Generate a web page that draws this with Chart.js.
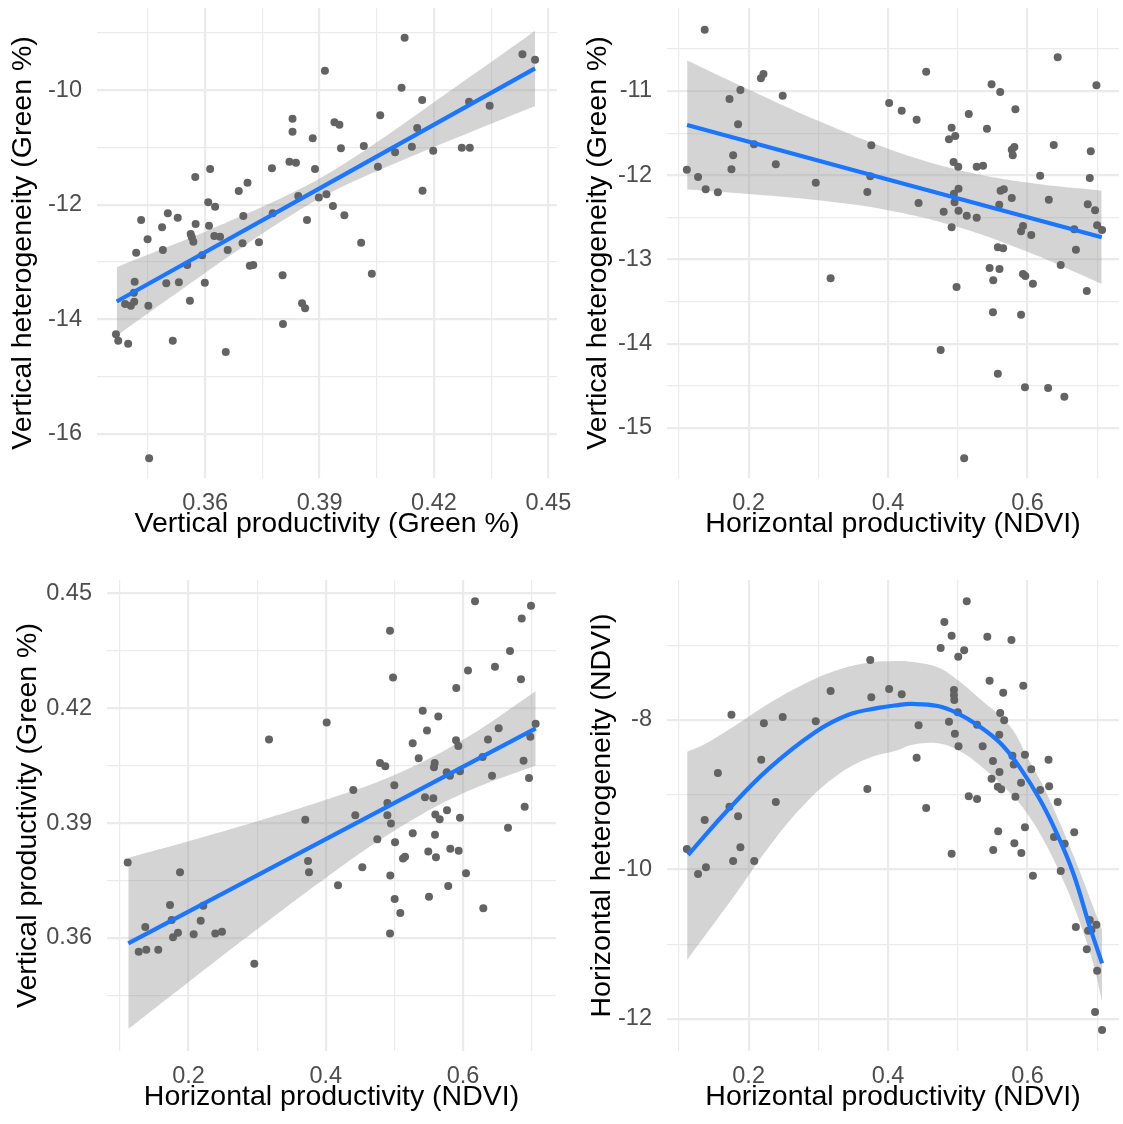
<!DOCTYPE html>
<html>
<head>
<meta charset="utf-8">
<script src="https://cdn.jsdelivr.net/npm/chart.js@4.4.1/dist/chart.umd.min.js"></script>
<style>
html,body{margin:0;padding:0;background:#ffffff;}
#wrap{position:relative;width:1123px;height:1124px;overflow:hidden;background:#fff;}
.cell{position:absolute;}
</style>
</head>
<body>
<div id="wrap">
  <div class="cell" style="left:0px;top:0px;width:600px;height:561px"><canvas id="c1"></canvas></div>
  <div class="cell" style="left:561px;top:0px;width:562px;height:561px"><canvas id="c2"></canvas></div>
  <div class="cell" style="left:0px;top:561px;width:600px;height:563px"><canvas id="c3"></canvas></div>
  <div class="cell" style="left:561px;top:561px;width:562px;height:563px"><canvas id="c4"></canvas></div>
</div>
<script>
// ---------------- Panel 1: Vertical productivity vs Vertical heterogeneity ----------------
const p1PointX = [0.3914,0.3829,0.3829,0.3882,0.3939,0.3952,0.3821,0.3838,0.3775,0.3888,0.3956,0.3574,0.3613,0.3711,0.3688,0.3608,0.3626,0.3844,0.3898,0.3918,0.3935,0.3432,0.3502,0.3528,0.3487,0.3449,0.3575,0.3610,0.3562,0.3565,0.3569,0.3624,0.3639,0.3700,0.3777,0.3867,0.3419,0.3489,0.3592,0.3659,0.3698,0.3741,0.3553,0.3717,0.3726,0.3803,0.3415,0.3498,0.3531,0.3599,0.3413,0.3390,0.3405,0.3414,0.3451,0.3560,0.3854,0.3862,0.3804,0.3366,0.3372,0.3398,0.3515,0.3654,0.3453,0.4123,0.4115,0.4169,0.4059,0.4156,0.4292,0.4346,0.4432,0.4465,0.4016,0.4098,0.4142,0.4198,0.4273,0.4294,0.4053,0.4170,0.3965,0.4009,0.4037];
const p1PointY = [-9.658,-10.497,-10.724,-10.839,-10.560,-10.602,-11.248,-11.266,-11.363,-11.376,-11.014,-11.515,-11.376,-11.615,-11.760,-11.957,-12.034,-11.847,-11.873,-11.818,-12.022,-12.266,-12.149,-12.226,-12.394,-12.604,-12.336,-12.366,-12.511,-12.569,-12.645,-12.546,-12.558,-12.197,-12.149,-12.266,-12.838,-12.790,-12.883,-12.790,-12.673,-12.656,-13.052,-13.065,-13.052,-13.232,-13.344,-13.372,-13.355,-13.362,-13.536,-13.734,-13.763,-13.693,-13.763,-13.676,-13.721,-13.809,-14.083,-14.263,-14.375,-14.427,-14.375,-14.572,-16.429,-9.082,-9.955,-10.170,-10.438,-10.659,-10.200,-10.270,-9.372,-9.466,-10.974,-11.084,-10.986,-11.056,-11.003,-11.003,-11.335,-11.755,-12.184,-12.663,-13.204];
const p1FitX = [0.3368, 0.4465];
const p1FitY = [-13.69, -9.617];
const p1BandX  = [0.3368, 0.35, 0.36, 0.37, 0.38, 0.39, 0.40, 0.41, 0.42, 0.43, 0.44, 0.4465];
const p1BandHi = [-13.09, -12.74, -12.47, -12.18, -11.88, -11.54, -11.13, -10.68, -10.21, -9.74, -9.27, -8.96];
const p1BandLo = [-14.29, -13.66, -13.19, -12.73, -12.29, -11.89, -11.56, -11.27, -10.99, -10.72, -10.45, -10.28];
const p1XTicks  = [0.345, 0.36, 0.375, 0.39, 0.405, 0.42, 0.435, 0.45];
const p1XLabels = ['', '0.36', '', '0.39', '', '0.42', '', '0.45'];
const p1YTicks  = [-16, -15, -14, -13, -12, -11, -10, -9];
const p1YLabels = ['-16', '', '-14', '', '-12', '', '-10', ''];

// ---------------- Panel 2: Horizontal productivity vs Vertical heterogeneity ----------------
const p2PointX = [0.137,0.2176,0.2213,0.1882,0.1726,0.2489,0.1849,0.2077,0.1778,0.1754,0.1114,0.1275,0.1384,0.1559,0.2390,0.2963,0.3760,0.3745,0.3703,0.4016,0.3176,0.6434,0.4547,0.6989,0.5485,0.5609,0.4196,0.4410,0.5158,0.5827,0.4912,0.4874,0.4964,0.5419,0.5775,0.5812,0.5789,0.6377,0.6908,0.4940,0.5007,0.5272,0.5363,0.6182,0.6894,0.5011,0.4945,0.5614,0.5661,0.5775,0.6306,0.4438,0.4954,0.5595,0.6865,0.6970,0.4798,0.5011,0.5129,0.5272,0.4912,0.5936,0.5908,0.6054,0.6671,0.6999,0.7070,0.5575,0.5651,0.6695,0.6477,0.5457,0.5599,0.5509,0.5936,0.5969,0.6078,0.6851,0.4983,0.5505,0.5908,0.4755,0.5575,0.5964,0.6296,0.6529,0.5092];
const p2PointY = [-10.272,-10.849,-10.798,-10.988,-11.095,-11.056,-11.396,-11.633,-11.764,-11.930,-11.934,-12.021,-12.168,-12.203,-11.871,-12.089,-11.645,-12.013,-12.200,-11.143,-13.225,-10.600,-10.771,-10.932,-10.920,-11.012,-11.234,-11.341,-11.273,-11.217,-11.436,-11.574,-11.534,-11.447,-11.697,-11.665,-11.764,-11.641,-11.716,-11.843,-11.899,-11.899,-11.887,-12.006,-12.033,-12.160,-12.220,-12.184,-12.167,-12.271,-12.291,-12.330,-12.322,-12.350,-12.346,-12.417,-12.433,-12.421,-12.481,-12.505,-12.619,-12.603,-12.666,-12.710,-12.643,-12.595,-12.651,-12.856,-12.868,-12.885,-13.067,-13.102,-13.114,-13.248,-13.173,-13.197,-13.289,-13.375,-13.328,-13.628,-13.657,-14.076,-14.357,-14.519,-14.527,-14.630,-15.362];
const p2FitX = [0.1118, 0.7065];
const p2FitY = [-11.404, -12.738];
const p2BandX  = [0.1118, 0.2, 0.3, 0.4, 0.5, 0.6, 0.7065];
const p2BandHi = [-10.638, -10.981, -11.354, -11.685, -11.935, -12.088, -12.185];
const p2BandLo = [-12.170, -12.223, -12.298, -12.415, -12.615, -12.910, -13.291];
const p2XTicks  = [0.1, 0.2, 0.3, 0.4, 0.5, 0.6, 0.7];
const p2XLabels = ['', '0.2', '', '0.4', '', '0.6', ''];
const p2YTicks  = [-15, -14.5, -14, -13.5, -13, -12.5, -12, -11.5, -11, -10.5];
const p2YLabels = ['-15', '', '-14', '', '-13', '', '-12', '', '-11', ''];

// ---------------- Panel 3: Horizontal productivity vs Vertical productivity ----------------
const p3PointX = [0.4013,0.3172,0.3701,0.1112,0.1875,0.3741,0.3755,0.4178,0.1729,0.2214,0.1753,0.2176,0.1369,0.1845,0.1773,0.2074,0.2389,0.2487,0.1273,0.1383,0.1558,0.2958,0.6175,0.6991,0.6856,0.4936,0.6685,0.6466,0.6073,0.4980,0.6845,0.5902,0.5413,0.5640,0.5475,0.7059,0.6981,0.6520,0.6364,0.5898,0.5932,0.5267,0.5354,0.4790,0.4867,0.5587,0.5577,0.6286,0.6883,0.5762,0.5810,0.5956,0.6423,0.6962,0.4999,0.4401,0.5446,0.5567,0.4898,0.4430,0.4898,0.4950,0.5597,0.5660,0.5767,0.5956,0.6899,0.5267,0.5592,0.4751,0.5009,0.6656,0.5125,0.5155,0.5494,0.5606,0.5815,0.5937,0.4532,0.4940,0.6044,0.5785,0.5004,0.5504,0.6296,0.5086,0.4936];
const p3PointY = [0.4163,0.4119,0.3909,0.3797,0.3772,0.3801,0.3772,0.3738,0.3686,0.3684,0.3647,0.3645,0.3629,0.3614,0.3602,0.3610,0.3612,0.3616,0.3564,0.3569,0.3569,0.3533,0.4480,0.4468,0.4435,0.4403,0.4350,0.4309,0.4299,0.4281,0.4276,0.4253,0.4194,0.4179,0.4142,0.4160,0.4126,0.4148,0.4119,0.4117,0.4102,0.4109,0.4070,0.4057,0.4049,0.4057,0.4046,0.4073,0.4063,0.4033,0.4024,0.4036,0.4024,0.4018,0.3999,0.3987,0.3968,0.3965,0.3953,0.3921,0.3921,0.3899,0.3923,0.3910,0.3934,0.3914,0.3943,0.3874,0.3870,0.3858,0.3850,0.3888,0.3808,0.3812,0.3826,0.3811,0.3833,0.3828,0.3785,0.3763,0.3769,0.3736,0.3702,0.3708,0.3678,0.3665,0.3612];
const p3FitX = [0.1121, 0.706];
const p3FitY = [0.3586, 0.4148];
const p3BandX  = [0.1121, 0.2, 0.3, 0.4, 0.5, 0.6, 0.706];
const p3BandHi = [0.3810, 0.3853, 0.3905, 0.3961, 0.4026, 0.4118, 0.4245];
const p3BandLo = [0.3362, 0.3485, 0.3623, 0.3757, 0.3880, 0.3978, 0.4051];
const p3XTicks  = [0.1, 0.2, 0.3, 0.4, 0.5, 0.6, 0.7];
const p3XLabels = ['', '0.2', '', '0.4', '', '0.6', ''];
const p3YTicks  = [0.345, 0.36, 0.375, 0.39, 0.405, 0.42, 0.435, 0.45];
const p3YLabels = ['', '0.36', '', '0.39', '', '0.42', '', '0.45'];

// ---------------- Panel 4: Horizontal productivity vs Horizontal heterogeneity ----------------
const p4PointX = [0.3745,0.3176,0.3760,0.4016,0.1754,0.2219,0.2489,0.2963,0.2181,0.1559,0.3703,0.2390,0.1725,0.1849,0.1370,0.1882,0.1114,0.1778,0.2081,0.1388,0.1275,0.5129,0.4808,0.4912,0.5424,0.5770,0.4755,0.5092,0.5007,0.5457,0.5652,0.5940,0.4196,0.4945,0.4945,0.4950,0.5001,0.4874,0.4438,0.5609,0.5666,0.5277,0.4959,0.5595,0.5011,0.5357,0.4410,0.5784,0.5964,0.6302,0.5505,0.5803,0.6054,0.5599,0.5485,0.5908,0.5575,0.5623,0.6311,0.6182,0.5827,0.6434,0.5158,0.5277,0.4547,0.5964,0.5580,0.6671,0.6381,0.6533,0.5812,0.5509,0.5912,0.4912,0.6477,0.6078,0.6694,0.6894,0.6989,0.6870,0.6918,0.6851,0.6999,0.6970,0.7070];
const p4PointY = [-7.197,-7.612,-7.696,-7.585,-7.929,-8.045,-7.960,-8.018,-8.531,-8.709,-8.924,-9.098,-9.161,-9.290,-9.339,-9.705,-9.727,-9.888,-9.888,-9.972,-10.062,-6.411,-6.688,-6.872,-6.885,-6.929,-7.036,-7.067,-7.153,-7.474,-7.635,-7.541,-7.656,-7.598,-7.665,-7.732,-7.897,-8.022,-8.071,-7.906,-8.004,-8.062,-8.183,-8.196,-8.353,-8.353,-8.504,-8.477,-8.464,-8.531,-8.549,-8.594,-8.660,-8.696,-8.786,-8.839,-8.893,-8.928,-8.888,-8.937,-9.027,-9.098,-9.021,-9.058,-9.178,-9.437,-9.490,-9.503,-9.566,-9.656,-9.651,-9.740,-9.780,-9.790,-10.021,-10.084,-10.771,-10.677,-10.740,-10.820,-10.811,-11.070,-11.356,-11.909,-12.150];
const p4FitX = [0.1132, 0.1725, 0.2294, 0.2959, 0.3432, 0.3860, 0.4144, 0.4333, 0.4713, 0.4997, 0.5282, 0.5613, 0.5899, 0.6182, 0.6420, 0.6657, 0.6894, 0.7070];
const p4FitY = [-9.807, -9.182, -8.647, -8.160, -7.930, -7.838, -7.800, -7.785, -7.812, -7.910, -8.067, -8.312, -8.647, -9.071, -9.517, -10.052, -10.767, -11.257];
const p4BandX  = [0.1118, 0.1346, 0.1821, 0.2294, 0.2768, 0.3243, 0.3717, 0.4144, 0.4333, 0.4713, 0.4997, 0.5282, 0.5755, 0.5993, 0.6230, 0.6467, 0.6704, 0.6942, 0.7070];
const p4BandHi = [-8.424, -8.335, -8.067, -7.777, -7.531, -7.340, -7.233, -7.210, -7.219, -7.295, -7.465, -7.688, -8.089, -8.491, -8.893, -9.383, -9.918, -10.499, -10.811];
const p4BandLo = [-11.213, -10.923, -10.320, -9.696, -9.161, -8.759, -8.513, -8.402, -8.335, -8.312, -8.402, -8.580, -8.981, -9.249, -9.606, -10.052, -10.588, -11.257, -11.771];
const p4XTicks  = [0.1, 0.2, 0.3, 0.4, 0.5, 0.6, 0.7];
const p4XLabels = ['', '0.2', '', '0.4', '', '0.6', ''];
const p4YTicks  = [-12, -11, -10, -9, -8, -7];
const p4YLabels = ['-12', '', '-10', '', '-8', ''];

// ---------------- styling ----------------
const FONT = "'Liberation Sans', Arial, Helvetica, sans-serif";
const BLUE = '#1A75FF';
const POINT = '#636363';
const BAND = 'rgba(153,153,153,0.42)';
const GRID = '#EBEBEB';
const TICKCOL = '#4D4D4D';
const TICKSIZE = 23.5;
const TITLESIZE = 28.5;

function zip(xs, ys) { return xs.map((x, i) => ({x: x, y: ys[i]})); }

function makePanel(id, d, g) {
  new Chart(document.getElementById(id), {
    type: 'scatter',
    data: {
      datasets: [
        {type: 'line', data: zip(d.fitX, d.fitY), borderColor: BLUE, borderWidth: 4.2,
         pointRadius: 0, fill: false, order: 0, tension: 0.4, borderCapStyle: 'butt', borderJoinStyle: 'round'},
        {type: 'scatter', data: zip(d.px, d.py), pointRadius: 4, pointHoverRadius: 4,
         backgroundColor: POINT, borderWidth: 0, borderColor: POINT, order: 1},
        {type: 'line', data: zip(d.bandX, d.bandHi), borderColor: 'rgba(0,0,0,0)', borderWidth: 0,
         pointRadius: 0, fill: '+1', backgroundColor: BAND, order: 2, tension: 0.4},
        {type: 'line', data: zip(d.bandX, d.bandLo), borderColor: 'rgba(0,0,0,0)', borderWidth: 0,
         pointRadius: 0, fill: false, order: 3, tension: 0.4}
      ]
    },
    options: {
      responsive: true,
      maintainAspectRatio: false,
      devicePixelRatio: 1,
      animation: false,
      events: [],
      layout: {padding: {top: g.top, right: g.right, left: 0, bottom: 0}},
      plugins: {legend: {display: false}, tooltip: {enabled: false}},
      scales: {
        x: {
          type: 'linear', min: g.xMin, max: g.xMax,
          afterBuildTicks: ax => { ax.ticks = d.xTicks.map(v => ({value: v})); },
          ticks: {autoSkip: false, maxRotation: 0, minRotation: 0, padding: 11, color: TICKCOL,
                  font: {family: FONT, size: TICKSIZE}, callback: (v, i) => d.xLabels[i]},
          grid: {drawTicks: false, color: GRID, lineWidth: c => (d.xLabels[c.index] ? 2.2 : 1.2)},
          border: {display: false},
          title: {display: true, text: g.xTitle, color: '#000000',
                  font: {family: FONT, size: TITLESIZE}, padding: {top: 0, bottom: g.xtPad}},
          afterFit: s => { s.height = g.xH; s.paddingLeft = 0; s.paddingRight = 0; }
        },
        y: {
          type: 'linear', min: g.yMin, max: g.yMax,
          afterBuildTicks: ax => { ax.ticks = d.yTicks.map(v => ({value: v})); },
          ticks: {autoSkip: false, padding: 15, color: TICKCOL,
                  font: {family: FONT, size: TICKSIZE}, callback: (v, i) => d.yLabels[i]},
          grid: {drawTicks: false, color: GRID, lineWidth: c => (d.yLabels[c.index] ? 2.2 : 1.2)},
          border: {display: false},
          title: {display: true, text: g.yTitle, color: '#000000',
                  font: {family: FONT, size: TITLESIZE}, padding: {top: g.ytPad, bottom: 0}},
          afterFit: s => { s.width = g.yW; s.paddingTop = 0; s.paddingBottom = 0; }
        }
      }
    }
  });
}

makePanel('c1',
  {px: p1PointX, py: p1PointY, fitX: p1FitX, fitY: p1FitY, bandX: p1BandX, bandHi: p1BandHi, bandLo: p1BandLo,
   xTicks: p1XTicks, xLabels: p1XLabels, yTicks: p1YTicks, yLabels: p1YLabels},
  {top: 8, right: 43, yW: 97, xH: 83, xMin: 0.33163, xMax: 0.45226, yMin: -16.773, yMax: -8.5633,
   xTitle: 'Vertical productivity (Green %)', yTitle: 'Vertical heterogeneity (Green %)', xtPad: 19.9, ytPad: 5.9});

makePanel('c2',
  {px: p2PointX, py: p2PointY, fitX: p2FitX, fitY: p2FitY, bandX: p2BandX, bandHi: p2BandHi, bandLo: p2BandLo,
   xTicks: p2XTicks, xLabels: p2XLabels, yTicks: p2YTicks, yLabels: p2YLabels},
  {top: 8, right: 0, yW: 106, xH: 83, xMin: 0.08293, xMax: 0.7313, yMin: -15.596, yMax: -10.0143,
   xTitle: 'Horizontal productivity (NDVI)', yTitle: 'Vertical heterogeneity (Green %)', xtPad: 19.9, ytPad: 19.9});

makePanel('c3',
  {px: p3PointX, py: p3PointY, fitX: p3FitX, fitY: p3FitY, bandX: p3BandX, bandHi: p3BandHi, bandLo: p3BandLo,
   xTicks: p3XTicks, xLabels: p3XLabels, yTicks: p3YTicks, yLabels: p3YLabels},
  {top: 19, right: 44, yW: 107, xH: 73, xMin: 0.08105, xMax: 0.73557, yMin: 0.33047, yMax: 0.45355,
   xTitle: 'Horizontal productivity (NDVI)', yTitle: 'Vertical productivity (Green %)', xtPad: 9.9, ytPad: 10.9});

makePanel('c4',
  {px: p4PointX, py: p4PointY, fitX: p4FitX, fitY: p4FitY, bandX: p4BandX, bandHi: p4BandHi, bandLo: p4BandLo,
   xTicks: p4XTicks, xLabels: p4XLabels, yTicks: p4YTicks, yLabels: p4YLabels},
  {top: 19, right: 0, yW: 106, xH: 73, xMin: 0.08293, xMax: 0.7313, yMin: -12.431, yMax: -6.1258,
   xTitle: 'Horizontal productivity (NDVI)', yTitle: 'Horizontal heterogeneity (NDVI)', xtPad: 9.9, ytPad: 23.9});
</script>
</body>
</html>
